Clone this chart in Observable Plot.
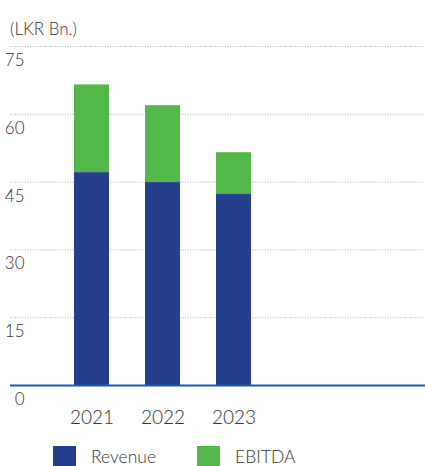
<!DOCTYPE html>
<html>
<head>
<meta charset="utf-8">
<script src="https://cdn.jsdelivr.net/npm/d3@7"></script>
<script src="https://cdn.jsdelivr.net/npm/@observablehq/plot@0.6"></script>
<style>
  html, body { margin: 0; padding: 0; background: #fff; }
  body { width: 425px; height: 466px; overflow: hidden; font-family: Lato, "Open Sans", sans-serif; font-weight: 300; color: #333; }
  #title { height: 40px; box-sizing: border-box; padding: 19px 0 0 10px; font-size: 17px; line-height: 20px; }
  #legend { display: flex; align-items: center; height: 20px; margin-top: 16px; padding-left: 53px; font-size: 17.5px; }
  .sw { width: 23px; height: 20px; display: inline-block; margin-right: 15px; }
  .item { display: flex; align-items: center; margin-right: 41px; }
</style>
</head>
<body>
<div id="title">(LKR Bn.)</div>
<div id="chart"></div>
<div id="legend"></div>
<script>
const years = ["2021", "2022", "2023"];
const revenue = [47.1, 44.9, 42.4];
const ebitda = [19.4, 17.0, 9.1];
const seriesNames = ["Revenue", "EBITDA"];
const seriesColors = ["#243f8c", "#52b84a"];
const yTicks = [0, 15, 30, 45, 60, 75];

const rows = [];
years.forEach((y, i) => rows.push({year: y, series: "Revenue", value: revenue[i]}));
years.forEach((y, i) => rows.push({year: y, series: "EBITDA", value: ebitda[i]}));

const chart = Plot.plot({
  width: 425,
  height: 390,
  marginTop: 6,
  marginBottom: 45,
  marginLeft: 10,
  marginRight: 0,
  style: {fontFamily: "Lato, 'Open Sans', sans-serif", fontWeight: 300, color: "#333", background: "#fff"},
  x: {domain: years, paddingInner: 0.51, paddingOuter: 1.657, align: 0.27, label: null},
  y: {domain: [0, 75], label: null},
  color: {domain: seriesNames, range: seriesColors},
  marks: [
    Plot.gridY(yTicks, {stroke: "#b0b0b0", strokeOpacity: 1, strokeDasharray: "1,1.5"}),
    Plot.barY(rows, {x: "year", y: "value", fill: "series", order: seriesNames}),
    Plot.ruleY([0], {stroke: "#1c5aa6", strokeWidth: 2}),
    Plot.axisY(yTicks, {tickSize: 0, dx: 23, dy: 14, fontSize: 17, label: null}),
    Plot.axisX({tickSize: 0, tickPadding: 25, fontSize: 19, label: null})
  ]
});
document.getElementById("chart").appendChild(chart);

const legend = document.getElementById("legend");
seriesNames.forEach((name, i) => {
  const item = document.createElement("div");
  item.className = "item";
  const sw = document.createElement("span");
  sw.className = "sw";
  sw.style.background = seriesColors[i];
  item.appendChild(sw);
  item.appendChild(document.createTextNode(name));
  legend.appendChild(item);
});
</script>
</body>
</html>
